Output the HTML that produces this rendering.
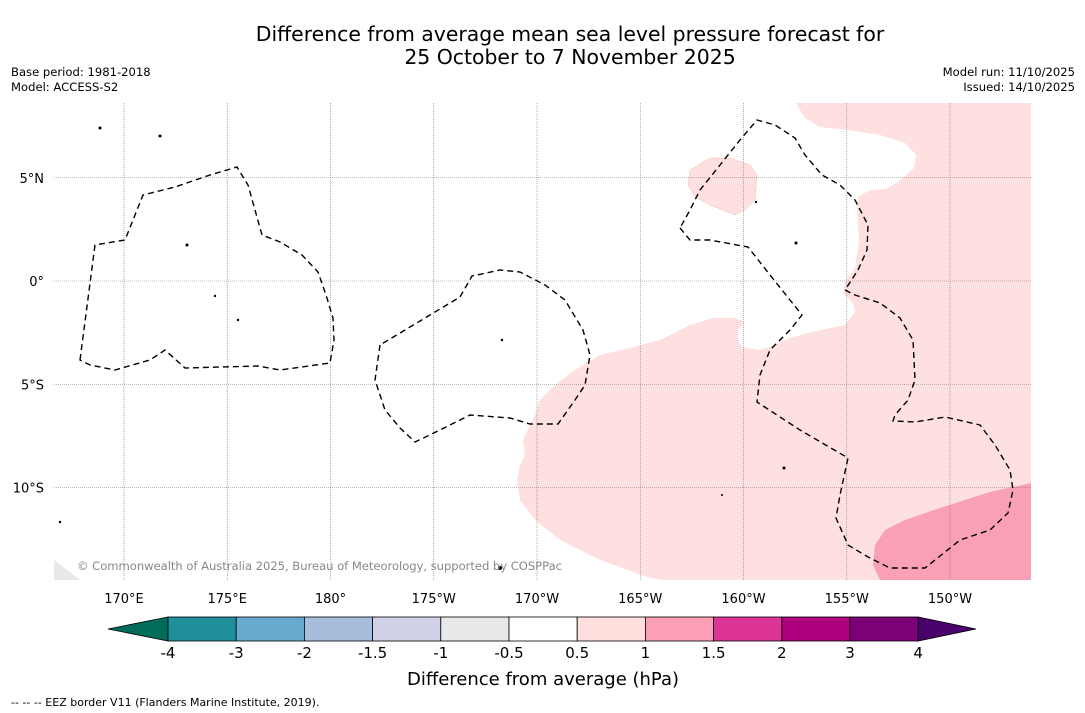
<!DOCTYPE html>
<html><head><meta charset="utf-8"><style>
body{margin:0;background:#fff;font-family:"DejaVu Sans","Liberation Sans",sans-serif}
svg{display:block}
</style></head><body>
<svg id="s" width="1085" height="713" xmlns="http://www.w3.org/2000/svg">
<rect width="1085" height="713" fill="#fff"/>
<text x="570" y="41" text-anchor="middle" font-size="20.4">Difference from average mean sea level pressure forecast for</text>
<text x="570" y="64" text-anchor="middle" font-size="20.4">25 October to 7 November 2025</text>
<text x="11" y="76" font-size="11.6">Base period: 1981-2018</text>
<text x="11" y="91" font-size="11.6">Model: ACCESS-S2</text>
<text x="1075" y="76" font-size="11.6" text-anchor="end">Model run: 11/10/2025</text>
<text x="1075" y="91" font-size="11.6" text-anchor="end">Issued: 14/10/2025</text>
<g id="map">
<path fill="#fde0df" d="M796,103 L805,118 820,127 848,130 880,135 905,143 916,155 914,168 898,182 886,189 870,190 858,197 857,210 859,240 855,268 845,282 843,293 853,303 855,312 845,325 812,332 790,338 775,345 760,350 742,347 738,340 738,330 745,322 735,318 712,318 690,325 660,340 630,348 600,355 575,370 555,385 540,400 535,415 530,425 523,440 525,455 520,465 517,480 520,500 535,520 560,540 600,560 650,578 665,580 1031,580 1031,103Z"/>
<path fill="#fde0df" stroke="#f0c0c0" stroke-width="0.5" d="M690,170 L710,158 730,158 750,165 757,175 755,200 745,210 735,215 710,205 695,197 688,185Z"/>
<path fill="#f9a0b6" d="M1031,483 L990,492 940,508 905,520 885,530 875,545 873,565 880,580 1031,580Z"/>
<path fill="#e8e8e8" d="M54,560 L54,580 80,580Z"/>
<g id="grid"></g>
<g fill="none" stroke="#000" stroke-width="1.4" stroke-dasharray="6,4">
<path d="M80,360 L95,245 125,240 143,195 175,187 210,175 237,167 248,185 262,235 280,242 302,255 318,272 326,295 333,318 334,340 330,363 280,370 258,366 185,368 165,350 150,360 115,370 90,365Z"/>
<path d="M380,345 L375,380 385,410 400,428 415,442 440,430 470,415 510,418 530,424 558,424 575,400 585,385 590,355 583,330 565,300 545,285 520,272 500,270 472,276 460,297 430,315 400,333Z"/>
<path d="M680,228 L690,240 710,240 748,247 770,275 790,300 802,315 790,330 770,350 760,375 757,402 800,430 848,458 840,495 836,518 848,545 868,557 890,568 925,568 940,556 960,540 990,530 1008,513 1013,490 1010,470 995,445 980,425 945,417 915,422 893,421 895,415 908,400 915,380 913,340 900,318 880,303 855,295 845,290 858,270 867,250 868,225 855,200 840,185 822,175 805,155 795,138 775,125 757,120 740,140 720,165 700,190 690,210Z"/>
</g>
<g fill="#000">
<circle cx="160" cy="136" r="1.5"/><circle cx="100" cy="128" r="1.5"/><circle cx="187" cy="245" r="1.5"/><circle cx="215" cy="296" r="1.2"/><circle cx="238" cy="320" r="1.2"/><circle cx="502" cy="340" r="1.2"/><circle cx="784" cy="468" r="1.5"/><circle cx="796" cy="243" r="1.5"/><circle cx="756" cy="202" r="1.2"/><circle cx="500" cy="568" r="2"/><circle cx="60" cy="522" r="1.2"/><circle cx="722" cy="495" r="1"/>
</g>
<text x="77" y="570" font-size="11.6" fill="#888" textLength="485">© Commonwealth of Australia 2025, Bureau of Meteorology, supported by COSPPac</text>
</g>
<g id="cbar"></g>
<text x="543" y="685" text-anchor="middle" font-size="18">Difference from average (hPa)</text>
<text x="11" y="706" font-size="11">--  --  -- EEZ border V11 (Flanders Marine Institute, 2019).</text>
</svg>
<script>
const NS="http://www.w3.org/2000/svg";
const lonTicks=[170,175,180,185,190,195,200,205,210];
const lonLabels=["170°E","175°E","180°","175°W","170°W","165°W","160°W","155°W","150°W"];
const latTicks=[5,0,-5,-10];
const latLabels=["5°N","0°","5°S","10°S"];
const levels=["-4","-3","-2","-1.5","-1","-0.5","0.5","1","1.5","2","3","4"];
const colors=["#1f8f99","#67a9cf","#a6bddb","#d0d1e6","#e8e8e8","#ffffff","#fde0dd","#fa9fb5","#dd3497","#ae017e","#7a0177"];
const lowColor="#016c59", highColor="#49006a";
const xLon=l=>124+(l-170)*20.65, yLat=l=>281-l*20.65;
const g=document.getElementById('grid'), s=document.getElementById('s');
function mk(t,a,p){const e=document.createElementNS(NS,t);for(const k in a)e.setAttribute(k,a[k]);p.appendChild(e);return e;}
lonTicks.forEach((l,i)=>{
 const ln=mk('line',{x1:xLon(l),x2:xLon(l),y1:103,y2:580,stroke:'#777','stroke-width':0.6,'stroke-dasharray':'1,1'},g);
 
 
 const t=mk('text',{x:xLon(l),y:603,'text-anchor':'middle','font-size':13},s);t.textContent=lonLabels[i];
 
 
});
latTicks.forEach((l,i)=>{
 const ln=mk('line',{x1:54,x2:1031,y1:yLat(l),y2:yLat(l),stroke:'#777','stroke-width':0.6,'stroke-dasharray':'1,1'},g);
 
 
 const t=mk('text',{x:44,y:yLat(l)+5,'text-anchor':'end','font-size':13},s);t.textContent=latLabels[i];
 
 
});
const cb=document.getElementById('cbar');
const x0=168,w=68.2,y0=617,h=24;
const la=mk('polygon',{points:`${x0},${y0} 108,${y0+h/2} ${x0},${y0+h}`,fill:lowColor,stroke:'#000','stroke-width':0.8},cb);


colors.forEach((c,i)=>{
 const r=mk('rect',{x:x0+i*w,y:y0,width:w,height:h,fill:c,stroke:'#000','stroke-width':0.8},cb);
 
 
});
const xe=x0+colors.length*w;
const ra=mk('polygon',{points:`${xe},${y0} 976,${y0+h/2} ${xe},${y0+h}`,fill:highColor,stroke:'#000','stroke-width':0.8},cb);


levels.forEach((v,i)=>{
 const t=mk('text',{x:x0+i*w,y:658,'text-anchor':'middle','font-size':15},cb);t.textContent=v;
 
 
});
</script>
</body></html>
